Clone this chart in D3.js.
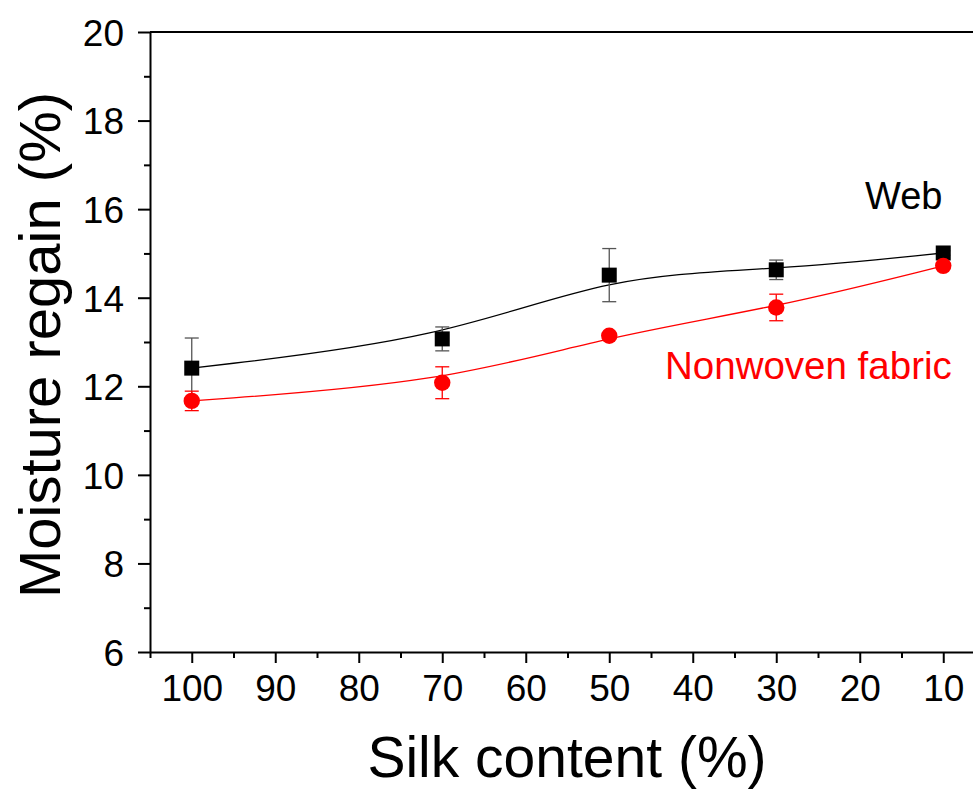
<!DOCTYPE html>
<html>
<head>
<meta charset="utf-8">
<script src="https://cdn.jsdelivr.net/npm/d3@7"></script>
<style>
	html, body { margin: 0; padding: 0; overflow: hidden; background: #fff; }
	text { font-family: "Liberation Sans", Arial, sans-serif; }
</style>
</head>
<body>
<div id="chart"></div>
<script>
var silk = [100, 70, 50, 30, 10];
var webVals = [12.41, 13.07, 14.51, 14.63, 15.01];
var webErr = [0.68, 0.27, 0.6, 0.22, 0.05];
var fabricVals = [11.67, 12.08, 13.14, 13.78, 14.72];
var fabricErr = [0.22, 0.36, 0.05, 0.3, 0.05];
var xTicks = [100, 90, 80, 70, 60, 50, 40, 30, 20, 10];
var yTicks = [6, 8, 10, 12, 14, 16, 18, 20];

var width = 973;
var height = 789;
var margin = {top: 32, left: 150, bottom: 137};

var x = d3.scaleLinear()
	.domain([105, 5])
	.range([margin.left, 985]);
var y = d3.scaleLinear()
	.domain([6, 20])
	.range([height - margin.bottom, margin.top]);

var svg = d3.select("#chart").append("svg")
	.attr("width", width)
	.attr("height", height);

// minor ticks first, major axis drawn on top
var xMinor = d3.range(5, 106, 5).filter(function(d) { return d % 10 != 0; });
var yMinor = d3.range(7, 20, 2);

svg.append("g")
	.attr("transform", "translate(0," + y(6) + ")")
	.call(d3.axisBottom(x).tickValues(xMinor).tickSize(6).tickFormat(""))
	.call(function(g) { g.select(".domain").remove(); })
	.selectAll("line").attr("stroke-width", 2);

svg.append("g")
	.attr("transform", "translate(" + margin.left + ",0)")
	.call(d3.axisLeft(y).tickValues(yMinor).tickSize(6).tickFormat(""))
	.call(function(g) { g.select(".domain").remove(); })
	.selectAll("line").attr("stroke-width", 2);

var xAxis = svg.append("g")
	.attr("transform", "translate(0," + y(6) + ")")
	.call(d3.axisBottom(x).tickValues(xTicks).tickSize(11).tickPadding(12).tickSizeOuter(0));
xAxis.select(".domain").attr("stroke-width", 2);
xAxis.selectAll(".tick line").attr("stroke-width", 2);
xAxis.selectAll("text")
	.attr("fill", "#000")
	.style("font-size", "37px");

var yAxis = svg.append("g")
	.attr("transform", "translate(" + margin.left + ",0)")
	.call(d3.axisLeft(y).tickValues(yTicks).tickSize(12).tickPadding(14).tickSizeOuter(0));
yAxis.select(".domain").attr("stroke-width", 2);
yAxis.selectAll(".tick line").attr("stroke-width", 2);
yAxis.selectAll("text")
	.attr("fill", "#000")
	.attr("dy", "0.36em")
	.style("font-size", "37px");

// top frame line
svg.append("line")
	.attr("x1", x(105))
	.attr("x2", x(5))
	.attr("y1", y(20))
	.attr("y2", y(20))
	.attr("stroke", "#000")
	.attr("stroke-width", 2);

var line = d3.line()
	.x(function(d) { return x(d[0]); })
	.y(function(d) { return y(d[1]); })
	.curve(d3.curveBasis);

var capW = 7;

var drawSeries = function(vals, errs, color, errColor, shape) {
	var pts = silk.map(function(s, i) { return [s, vals[i], errs[i]]; });

	svg.append("path")
		.datum(pts)
		.attr("d", line)
		.attr("fill", "none")
		.attr("stroke", color)
		.attr("stroke-width", 1.3);

	var eb = svg.append("g");
	pts.forEach(function(p) {
		var lo = y(p[1] - p[2]);
		var hi = y(p[1] + p[2]);
		var cx = x(p[0]);
		eb.append("line")
			.attr("x1", cx).attr("x2", cx)
			.attr("y1", lo).attr("y2", hi)
			.attr("stroke", errColor).attr("stroke-width", 1.3);
		eb.append("line")
			.attr("x1", cx - capW).attr("x2", cx + capW)
			.attr("y1", lo).attr("y2", lo)
			.attr("stroke", errColor).attr("stroke-width", 1.3);
		eb.append("line")
			.attr("x1", cx - capW).attr("x2", cx + capW)
			.attr("y1", hi).attr("y2", hi)
			.attr("stroke", errColor).attr("stroke-width", 1.3);
	});

	if(shape == "square") {
		svg.append("g").selectAll("rect")
			.data(pts)
			.enter().append("rect")
			.attr("x", function(d) { return x(d[0]) - 7.5; })
			.attr("y", function(d) { return y(d[1]) - 7.5; })
			.attr("width", 15)
			.attr("height", 15)
			.attr("fill", color);
	} else {
		svg.append("g").selectAll("circle")
			.data(pts)
			.enter().append("circle")
			.attr("cx", function(d) { return x(d[0]); })
			.attr("cy", function(d) { return y(d[1]); })
			.attr("r", 8.2)
			.attr("fill", color);
	}
}

drawSeries(webVals, webErr, "#000", "#555", "square");
drawSeries(fabricVals, fabricErr, "#ff0000", "#ff0000", "circle");

svg.append("text")
	.text("Web")
	.attr("x", 865)
	.attr("y", 209)
	.attr("fill", "#000")
	.style("font-size", "38px");

svg.append("text")
	.text("Nonwoven fabric")
	.attr("x", 665)
	.attr("y", 379)
	.attr("fill", "#ff0000")
	.style("font-size", "38.5px");

svg.append("text")
	.text("Silk content (%)")
	.attr("x", 567)
	.attr("y", 777)
	.style("text-anchor", "middle")
	.style("font-size", "57px");

svg.append("text")
	.text("Moisture regain (%)")
	.style("text-anchor", "middle")
	.style("font-size", "58px")
	.attr("transform", "translate(60," + ((y(6) + y(20)) / 2 + 3) + ") rotate(-90)");
</script>
</body>
</html>
